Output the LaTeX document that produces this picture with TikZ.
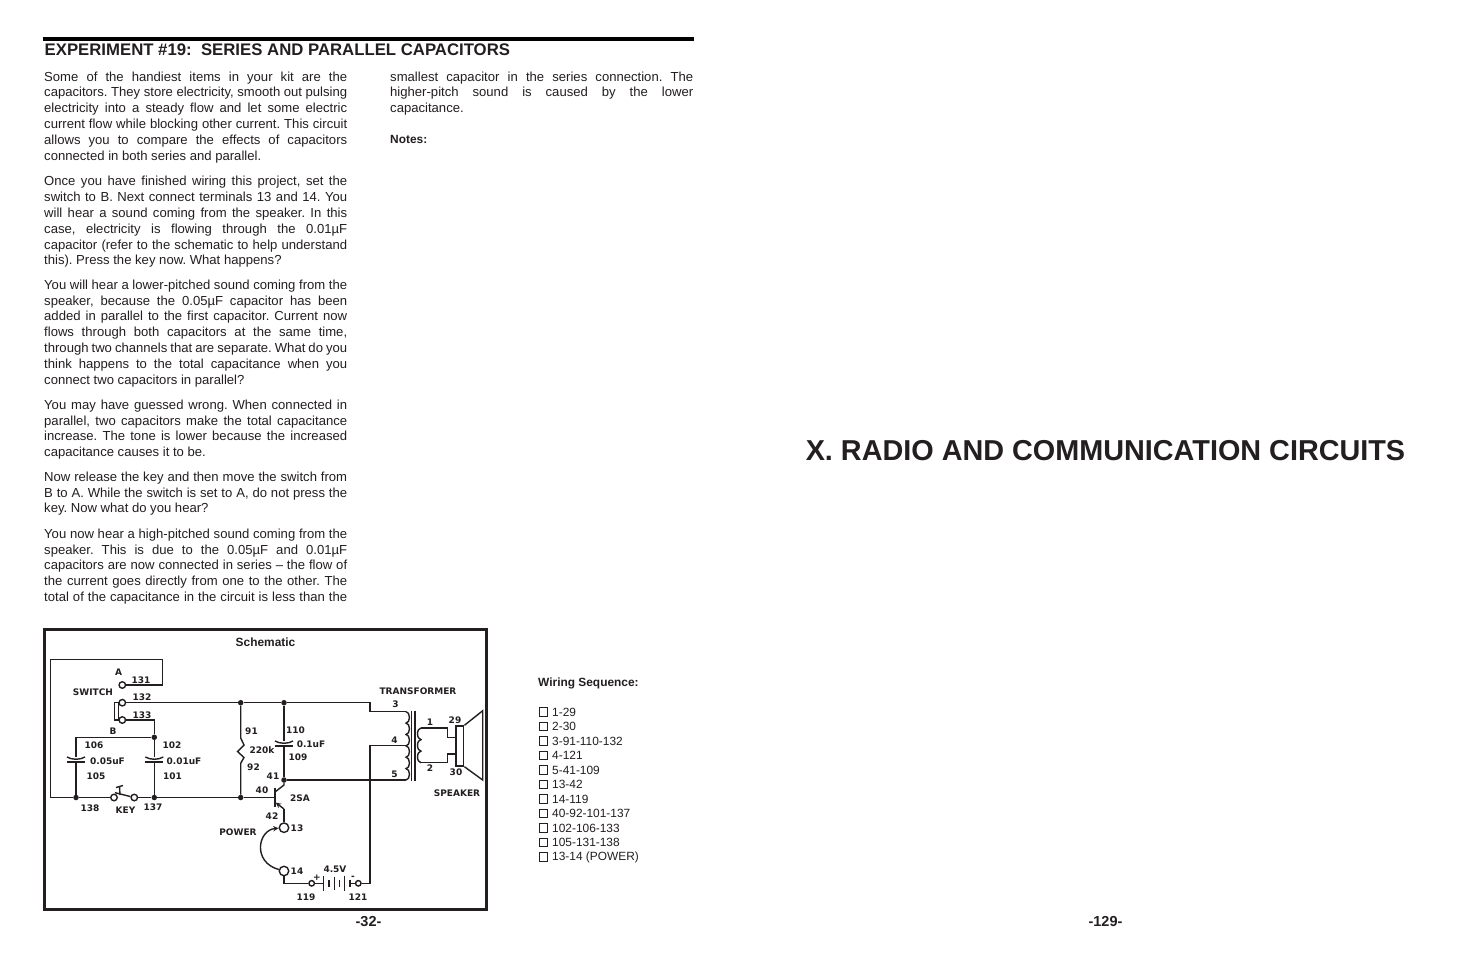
\documentclass[tikz,border=0pt]{standalone}
\usepackage{fontspec}
\setmainfont{Liberation Sans}
\newfontfamily\labelfont{DejaVu Sans}
\usepackage{xcolor}
\definecolor{ink}{HTML}{231F20}
\tolerance=9999
\hfuzz=5pt
\tikzstyle{para} = [anchor=north west, inner sep=0pt, text width=303pt, align=justify, text=ink, font=\frenchspacing\fontsize{13.1}{15.85}\selectfont]
\tikzstyle{plain} = [anchor=west, inner sep=0pt, text=ink, font=\fontsize{11.9}{14}\selectfont]
\tikzstyle{heading} = [inner sep=0pt, text=ink, font=\bfseries\fontsize{11.9}{14}\selectfont]
\tikzstyle{pagenum} = [inner sep=0pt, text=ink, font=\bfseries\fontsize{14.5}{16}\selectfont]
\tikzstyle{lab} = [inner sep=0pt, text=ink, font=\labelfont\bfseries\fontsize{9}{10}\selectfont]
\tikzstyle{wire} = [draw=ink, line width=1.4pt]
\tikzstyle{term} = [circle, draw=ink, fill=white, line width=1.4pt, inner sep=0pt, minimum size=6.5pt]
\tikzstyle{bigterm} = [circle, draw=ink, fill=white, line width=1.4pt, inner sep=0pt, minimum size=9.5pt]
\tikzstyle{dot} = [circle, fill=ink, inner sep=0pt, minimum size=5.5pt]
\tikzstyle{chkbox} = [rectangle, draw=ink, line width=0.9pt, inner sep=0pt, minimum size=8.5pt]
\newcommand{\capsym}[2]{
    \draw [wire] (#1-9,#2-5) .. controls (#1-4,#2-2) and (#1+4,#2-2) .. (#1+9,#2-5);
    \draw [wire] (#1-9,#2) -- (#1+9,#2);
}
\begin{document}
\begin{tikzpicture}[x=1pt, y=-1pt]
    \useasboundingbox [fill=white] (0,0) rectangle (1475,954);
    \coordinate (ruleL) at (43,39);
    \coordinate (ruleR) at (694,39);
    \draw [draw=black, line width=3.5pt] (ruleL) -- (ruleR);
    \node (title) [anchor=west, inner sep=0pt, text=ink, font=\bfseries\fontsize{16.75}{18}\selectfont] at (44.5,50) {EXPERIMENT \#19:\ \ SERIES AND PARALLEL CAPACITORS};
    \node (p1) [para] at (44,71.4) {Some of the handiest items in your kit are the\linebreak capacitors. They store electricity, smooth out pulsing\linebreak electricity into a steady flow and let some electric\linebreak current flow while blocking other current. This circuit\linebreak allows you to compare the effects of capacitors\linebreak connected in both series and parallel.};
    \node (p2) [para] at (44,176) {Once you have finished wiring this project, set the\linebreak switch to B. Next connect terminals 13 and 14. You\linebreak will hear a sound coming from the speaker. In this\linebreak case, electricity is flowing through the 0.01µF\linebreak capacitor (refer to the schematic to help understand\linebreak this). Press the key now. What happens?};
    \node (p3) [para] at (44,279.5) {You will hear a lower-pitched sound coming from the\linebreak speaker, because the 0.05µF capacitor has been\linebreak added in parallel to the first capacitor. Current now\linebreak flows through both capacitors at the same time,\linebreak through two channels that are separate. What do you\linebreak think happens to the total capacitance when you\linebreak connect two capacitors in parallel?};
    \node (p4) [para] at (44,399.5) {You may have guessed wrong. When connected in\linebreak parallel, two capacitors make the total capacitance\linebreak increase. The tone is lower because the increased\linebreak capacitance causes it to be.};
    \node (p5) [para] at (44,471.5) {Now release the key and then move the switch from\linebreak B to A. While the switch is set to A, do not press the\linebreak key. Now what do you hear?};
    \node (p6) [para] at (44,528.5) {You now hear a high-pitched sound coming from the\linebreak speaker. This is due to the 0.05µF and 0.01µF\linebreak capacitors are now connected in series -- the flow of\linebreak the current goes directly from one to the other. The\linebreak \hbox to 303pt{total of the capacitance in the circuit is less than the}};
    \node (p7) [para] at (390,71.4) {smallest capacitor in the series connection. The\linebreak higher-pitch sound is caused by the lower\linebreak capacitance.};
    \node (notes) [heading, anchor=west] at (390,139.5) {Notes:};
    \node (chapter) [inner sep=0pt, text=ink, font=\bfseries\fontsize{28.8}{32}\selectfont] at (1105.5,450.7) {X. RADIO AND COMMUNICATION CIRCUITS};
    \node (pageL) [pagenum] at (368.5,921.5) {-32-};
    \node (pageR) [pagenum] at (1105.5,921.5) {-129-};
    \node (frame) [draw=ink, line width=3pt, minimum width=442pt, minimum height=279.5pt, inner sep=0pt] at (265.3,769.7) {};
    \node (schematic) [heading] at (265.5,642) {Schematic};
    \node (wiring) [heading, anchor=west] at (538,683.6) {Wiring Sequence:};
    \foreach \n/\y/\txt in {1/712/1-29, 2/726.5/2-30, 3/741/3-91-110-132, 4/755.5/4-121, 5/770/5-41-109, 6/784.5/13-42, 7/799/14-119, 8/813.5/40-92-101-137, 9/828/102-106-133, 10/842.5/105-131-138, 11/857/13-14 (POWER)}
    {
        \node (box\n) [chkbox] at (543.5,\y) {};
        \node (seq\n) [plain] at (552,\y) {\txt};
    }
    % terminals
    \node (t131) [term] at (122.3,685) {};
    \node (t132) [term] at (122.3,702.7) {};
    \node (t133) [term] at (122.3,720) {};
    \node (keyA) [term] at (114,797.5) {};
    \node (keyB) [term] at (134.3,797.5) {};
    \node (t13) [bigterm] at (284,827.7) {};
    \node (t14) [bigterm] at (284,871) {};
    \node (t119) [term, minimum size=5.5pt] at (311.7,883.3) {};
    \node (t121) [term, minimum size=5.5pt] at (358.3,883.3) {};
    % junctions
    \node (jB) [dot] at (154.3,737.3) {};
    \node (j132) [dot] at (240.7,702.7) {};
    \node (j110) [dot] at (284,702.7) {};
    \node (j105) [dot] at (76,797.5) {};
    \node (j137) [dot] at (154.3,797.5) {};
    \node (j92) [dot] at (240.7,797.5) {};
    \node (j41) [dot] at (284,780) {};
    % corners
    \coordinate (tl) at (50.5,659.5);
    \coordinate (tr) at (162.7,659.5);
    \coordinate (br) at (162.7,685);
    \coordinate (bl) at (50.5,797.5);
    \coordinate (w3a) at (370,702.7);
    \coordinate (w3b) at (370,711.7);
    \coordinate (coilT) at (406,711.7);
    \coordinate (coilM) at (406,745.7);
    \coordinate (coilB) at (406,780);
    \coordinate (w4) at (370,745.7);
    \coordinate (w121) at (370,883.3);
    \coordinate (c14) at (284,883.3);
    \coordinate (secT) at (421,728);
    \coordinate (secB) at (421,762.7);
    \coordinate (base) at (275,797.5);
    \coordinate (coll) at (275,792);
    \coordinate (emit) at (275,802);
    \coordinate (emitB) at (284,809);
    \coordinate (collB) at (284,785);
    % wires
    \draw [wire] (t131) -- (br) -- (tr) -- (tl) -- (bl) -- (j105) -- (keyA);
    \draw [wire] (keyB) -- (j137) -- (j92) -- (base);
    \draw [wire] (t132) -- (j132) -- (j110) -- (w3a) -- (w3b) -- (coilT);
    \draw [wire] (t133) -| (jB);
    \draw [wire] (jB) -- (76,737.3) -- (76,757);
    \draw [wire] (jB) -- (154.3,757);
    \draw [wire] (76,762) -- (j105);
    \draw [wire] (154.3,762) -- (j137);
    \capsym{76}{762}
    \capsym{154.3}{762}
    \draw [wire] (114.3,702.7) rectangle (118.3,720);
    \draw [wire] (114.3,702.7) -- (t132);
    \draw [wire] (114.3,720) -- (t133);
    \draw [wire] (115,792.7) -- (keyB);
    \draw [wire] (120,795) -- (119.5,786);
    \draw [wire] (116,787.5) -- (123,785.5);
    \draw [wire] (j132) -- (240.7,738) -- (244,745) -- (237.5,751.5) -- (244,757.5) -- (240.7,763.3) -- (j92);
    \draw [wire] (j110) -- (284,741);
    \draw [wire] (284,746) -- (j41);
    \capsym{284}{746}
    \draw [wire] (j41) -- (coilB);
    \draw [wire] (j41) -- (collB) -- (coll);
    \draw [wire, line width=1.8pt] (275,788) -- (275,807);
    \draw [wire, ->, >=stealth, shorten >=1pt] (emitB) -- (emit);
    \draw [wire] (emitB) -- (t13);
    \draw [wire, ->, >=stealth] (t14) .. controls (252,862) and (258,830) .. (t13);
    \draw [wire] (t14) -- (c14) -- (t119);
    \draw [wire] (t119) -- (323.3,883.3);
    \draw [wire] (t121) -- (w121) -- (w4) -- (coilM);
    \draw [wire] (t121) -- (350,883.3);
    \foreach \x/\h in {323.3/7.5, 329/3.5, 334.3/6.5, 339.3/3.5, 344.5/7.5, 350/3.5}
        \draw [wire] (\x,883.3-\h) -- (\x,883.3+\h);
    % transformer
    \draw [wire] (coilT) foreach \i in {1,...,6} {arc [start angle=-90, end angle=90, x radius=3.5, y radius=5.69]};
    \draw [wire] (411.7,710.7) -- (411.7,780.7);
    \draw [wire] (415,710.7) -- (415,780.7);
    \draw [wire] (secT) foreach \i in {1,2,3} {arc [start angle=-90, end angle=-270, x radius=3.5, y radius=5.78]};
    % speaker
    \node (cone) [draw=ink, fill=white, line width=1.4pt, minimum width=7.7pt, minimum height=40pt, inner sep=0pt] at (459.85,746) {};
    \coordinate (spkT) at (447.7,737.3);
    \coordinate (spkB) at (447.7,754);
    \draw [wire] (secT) -- (447.7,728) -- (spkT) -- (cone.west |- spkT);
    \draw [wire] (secB) -- (447.7,762.7) -- (spkB) -- (cone.west |- spkB);
    \draw [wire] (cone.north east) -- (482.7,710.7) -- (482.7,780) -- (cone.south east);
    % labels
    \foreach \x/\y/\txt in {118.5/672.5/A, 141/680/131, 93/692/SWITCH, 142/697/132, 142/715/133, 113/731/B, 94/745/106, 172/745/102, 107.5/761/0.05uF, 184/761/0.01uF, 96/776/105, 172.5/776/101, 90/808/138, 125.5/810.5/KEY, 153/807.5/137, 251.5/731/91, 262/750/220k, 253.5/767/92, 273/776/41, 262/790/40, 300/798/2SA, 272/816.5/42, 238/832/POWER, 297/828/13, 297/871/14, 335/869.5/4.5V, 317/878/+, 353/878/-, 306/897/119, 358/897/121, 295.5/730/110, 311/744/0.1uF, 298/757/109, 395.5/704.5/3, 418/691.5/TRANSFORMER, 394.5/740/4, 394.5/774.5/5, 430/722/1, 430/768.5/2, 455/720/29, 456/772.5/30, 457/793/SPEAKER}
        \node (lab\txt) [lab] at (\x,\y) {\txt};
\end{tikzpicture}
\end{document}
